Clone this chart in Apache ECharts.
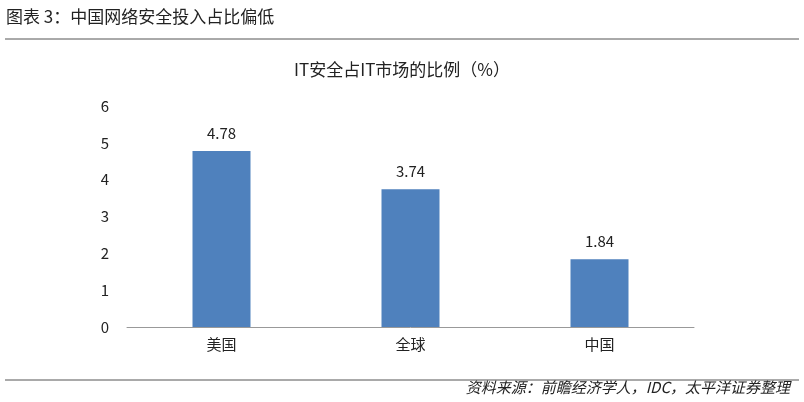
<!DOCTYPE html>
<html><head><meta charset="utf-8">
<script src="https://cdn.jsdelivr.net/npm/echarts@6/dist/echarts.min.js"></script>
<style>html,body{margin:0;padding:0;background:#fff}#c{width:804px;height:402px}</style>
</head><body><div id="c"></div>
<script>
const categories = ['美国', '全球', '中国'];
const values = [4.78, 3.74, 1.84];
const yTicks = [0, 1, 2, 3, 4, 5, 6];
const font = '"Noto Sans CJK SC", "Noto Sans", sans-serif';
const chart = echarts.init(document.getElementById('c'));
chart.setOption({
  animation: false,
  graphic: [
    {type: 'text', left: 6, top: 8, style: {text: '图表 3：中国网络安全投入占比偏低', font: '17px ' + font, fill: '#222'}},
    {type: 'line', shape: {x1: 5, y1: 39, x2: 799, y2: 39}, style: {stroke: '#555', lineWidth: 1}},
    {type: 'line', shape: {x1: 5, y1: 380, x2: 799, y2: 380}, style: {stroke: '#555', lineWidth: 1}},
    {type: 'text', right: 14, top: 380, style: {text: '资料来源：前瞻经济学人，IDC，太平洋证券整理', font: 'italic 15px ' + font, fill: '#222'}}
  ],
  title: {text: 'IT安全占IT市场的比例（%）', left: 'center', top: 56, textStyle: {fontFamily: font, fontSize: 17, fontWeight: 'normal', color: '#222'}},
  grid: {left: 127, right: 110, top: 106, bottom: 75},
  xAxis: {type: 'category', data: categories,
    axisLine: {lineStyle: {color: '#999'}}, axisTick: {show: false},
    axisLabel: {fontFamily: font, fontSize: 15, color: '#222', margin: 10}},
  yAxis: {type: 'value', min: yTicks[0], max: yTicks[yTicks.length - 1], interval: 1,
    axisLine: {show: false}, axisTick: {show: false}, splitLine: {show: false},
    axisLabel: {fontFamily: font, fontSize: 15, color: '#222', margin: 18}},
  series: [{type: 'bar', data: values, barWidth: 58, itemStyle: {color: '#4f81bd'},
    label: {show: true, position: 'top', distance: 10, fontFamily: font, fontSize: 15, color: '#222'}}]
});
</script></body></html>
